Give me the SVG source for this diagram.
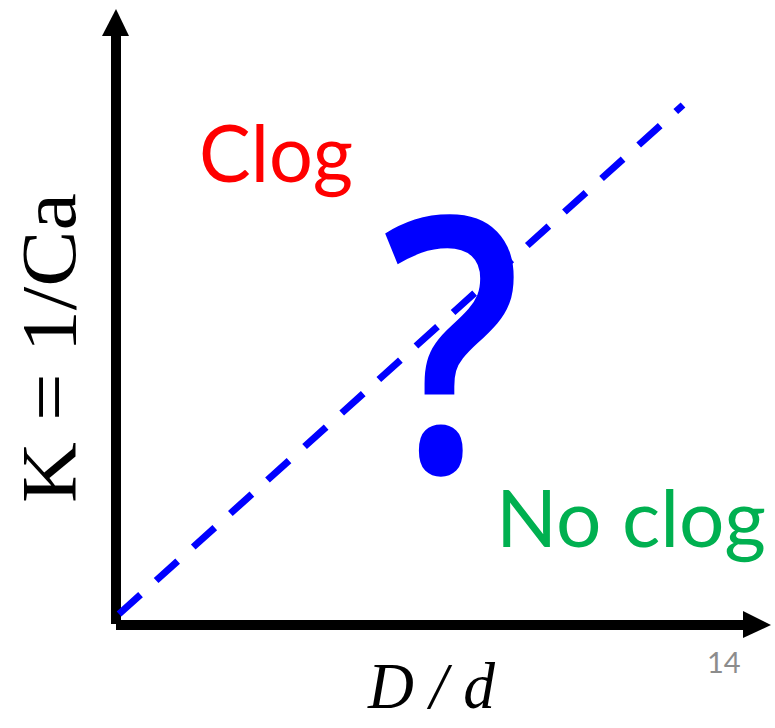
<svg xmlns="http://www.w3.org/2000/svg" width="775" height="728" viewBox="0 0 775 728">
  <style>
    .axis { fill: #000; }
    .lbl { font-family: "Lato", "Liberation Sans", sans-serif; }
    .serif { font-family: "Liberation Serif", "DejaVu Serif", serif; fill: #000; }
  </style>
  <rect width="775" height="728" fill="#fff"/>
  <g id="axes">
    <rect class="axis" x="111" y="34" width="10" height="590"/>
    <polygon class="axis" points="116,9 129,36 102,36"/>
    <rect class="axis" x="116" y="620" width="629" height="10"/>
    <polygon class="axis" points="771,625 743,611 743,638"/>
  </g>
  <g id="connectors">
    <line x1="119" y1="614" x2="683" y2="105" stroke="#0000ff" stroke-width="7" stroke-dasharray="29 21"/>
  </g>
  <g id="question">
    <text transform="translate(452,472) scale(0.86,1)" x="0" y="0" text-anchor="middle" font-family="Open Sans, Noto Sans, sans-serif" font-weight="600" font-size="356" fill="#0000ff">?</text>
  </g>
  <g id="clog">
    <text class="lbl" x="199" y="182" font-size="80" fill="#ff0000" textLength="154" lengthAdjust="spacingAndGlyphs">Clog</text>
  </g>
  <g id="noclog">
    <text class="lbl" x="496" y="547" font-size="80" fill="#00b050" textLength="270" lengthAdjust="spacingAndGlyphs">No clog</text>
  </g>
  <g id="ylabel">
    <text class="serif" transform="translate(75,348) rotate(-90)" x="0" y="0" text-anchor="middle" font-size="78" textLength="310" lengthAdjust="spacingAndGlyphs">K = 1/Ca</text>
  </g>
  <g id="xlabel">
    <text class="serif" x="368" y="708" font-size="66" font-style="italic" textLength="127" lengthAdjust="spacingAndGlyphs">D / d</text>
  </g>
  <g id="pagenum">
    <text class="lbl" x="707" y="673" font-size="29" fill="#8c8c8c">14</text>
  </g>
</svg>
